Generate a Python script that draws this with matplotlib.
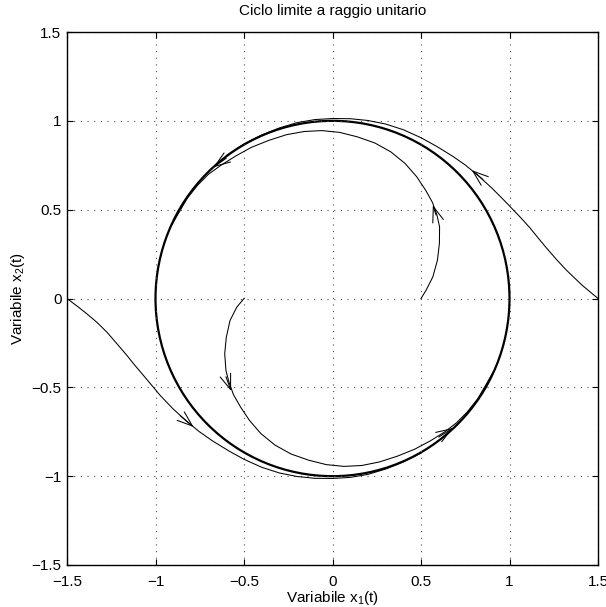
import matplotlib
matplotlib.use("Agg")
import matplotlib.pyplot as plt
from matplotlib.patches import Circle

plt.rcParams['font.family'] = ['Liberation Sans', 'DejaVu Sans']
plt.rcParams['mathtext.default'] = 'regular'

# limit cycle radius
LIMIT_RADIUS = 1.0

# trajectory starting at (0.5, 0), spirals out to the cycle
A_X = [0.5, 0.529, 0.567, 0.593, 0.604, 0.605, 0.59, 0.565, 0.526, 0.476,
       0.41, 0.33, 0.24, 0.14, 0.04, -0.06, -0.16, -0.26, -0.36, -0.46,
       -0.55, -0.63, -0.7, -0.76, -0.82, -0.87, -0.91]
A_Y = [0.0, 0.047, 0.122, 0.216, 0.31, 0.403, 0.47, 0.54, 0.61, 0.685,
       0.76, 0.825, 0.875, 0.91, 0.935, 0.945, 0.94, 0.922, 0.89, 0.85,
       0.8, 0.75, 0.7, 0.64, 0.565, 0.48, 0.41]

# trajectory starting at (-0.5, 0)
B_X = [-0.5, -0.541, -0.579, -0.6, -0.609, -0.602, -0.585, -0.56, -0.52,
       -0.47, -0.405, -0.325, -0.235, -0.135, -0.035, 0.065, 0.165, 0.265,
       0.365, 0.465, 0.555, 0.635, 0.7, 0.76, 0.82, 0.87, 0.91]
B_Y = [0.0, -0.049, -0.124, -0.218, -0.311, -0.405, -0.47, -0.54, -0.61,
       -0.685, -0.76, -0.825, -0.875, -0.91, -0.935, -0.945, -0.94, -0.92,
       -0.888, -0.848, -0.8, -0.75, -0.7, -0.64, -0.565, -0.48, -0.41]

# trajectory starting at (1.5, 0), shrinks onto the cycle
C_X = [1.5, 1.41, 1.323, 1.265, 1.21, 1.16, 1.116, 1.068, 1.02, 0.97, 0.9,
       0.825, 0.752, 0.68, 0.589, 0.5, 0.4, 0.3, 0.2, 0.1, 0.0, -0.1, -0.2,
       -0.3, -0.4, -0.5, -0.6]
C_Y = [0.0, 0.075, 0.158, 0.22, 0.283, 0.343, 0.397, 0.45, 0.5, 0.552,
       0.622, 0.69, 0.75, 0.8, 0.856, 0.905, 0.95, 0.982, 1.002, 1.012,
       1.013, 1.007, 0.99, 0.96, 0.92, 0.87, 0.805]

# trajectory starting at (-1.5, 0)
D_X = [-1.5, -1.44, -1.388, -1.33, -1.275, -1.22, -1.162, -1.115, -1.068,
       -1.02, -0.974, -0.9, -0.825, -0.752, -0.68, -0.589, -0.5, -0.4, -0.3,
       -0.2, -0.1, 0.0, 0.1, 0.2, 0.3, 0.4, 0.5]
D_Y = [0.0, -0.045, -0.086, -0.135, -0.189, -0.252, -0.32, -0.378, -0.433,
       -0.49, -0.545, -0.622, -0.69, -0.75, -0.8, -0.856, -0.905, -0.95,
       -0.982, -1.002, -1.012, -1.013, -1.007, -0.99, -0.96, -0.92, -0.87]

# direction markers: (tail, tip)
ARROW_TAIL = [(0.585, 0.47), (0.85, 0.67), (-0.6, 0.79),
              (-0.602, -0.44), (-0.86, -0.66), (0.6, -0.78)]
ARROW_TIP = [(0.567, 0.525), (0.787, 0.722), (-0.672, 0.739),
             (-0.573, -0.52), (-0.785, -0.723), (0.68, -0.729)]

TICKS = [-1.5, -1, -0.5, 0, 0.5, 1, 1.5]
TICK_LABELS = [('%g' % t).replace('-', '\u2212') for t in TICKS]

fig = plt.figure(figsize=(6.06, 6.07), dpi=100)
ax = fig.add_axes([67 / 606, 1 - 565 / 607, 531 / 606, 533 / 607])

ax.add_patch(Circle((0, 0), LIMIT_RADIUS, fill=False, ec='k', lw=1.6))
for xs, ys in [(A_X, A_Y), (B_X, B_Y), (C_X, C_Y), (D_X, D_Y)]:
    ax.plot(xs, ys, color='k', lw=0.75)

for tail, tip in zip(ARROW_TAIL, ARROW_TIP):
    ax.annotate('', xy=tip, xytext=tail,
                arrowprops=dict(arrowstyle='->,head_length=1.1,head_width=0.4',
                                color='k', lw=0.75, shrinkA=0, shrinkB=0))

ax.set_xlim(-1.5, 1.5)
ax.set_ylim(-1.5, 1.5)
ax.set_xticks(TICKS)
ax.set_yticks(TICKS)
ax.set_xticklabels(TICK_LABELS)
ax.set_yticklabels(TICK_LABELS)
ax.tick_params(direction='in', length=4, width=0.8, top=True, right=True,
               labelsize=11, colors='k')
ax.tick_params(axis='x', pad=7)
ax.tick_params(axis='y', pad=4)
ax.grid(True, linestyle=(0, (1, 5)), color='0.3', lw=0.8)
for s in ax.spines.values():
    s.set_linewidth(1.0)

ax.set_title('Ciclo limite a raggio unitario', fontsize=11, pad=12)
ax.set_xlabel('Variabile x$_1$(t)', fontsize=11, labelpad=0)
ax.set_ylabel('Variabile x$_2$(t)', fontsize=11, labelpad=3)

fig.savefig('out.png', dpi=100)
